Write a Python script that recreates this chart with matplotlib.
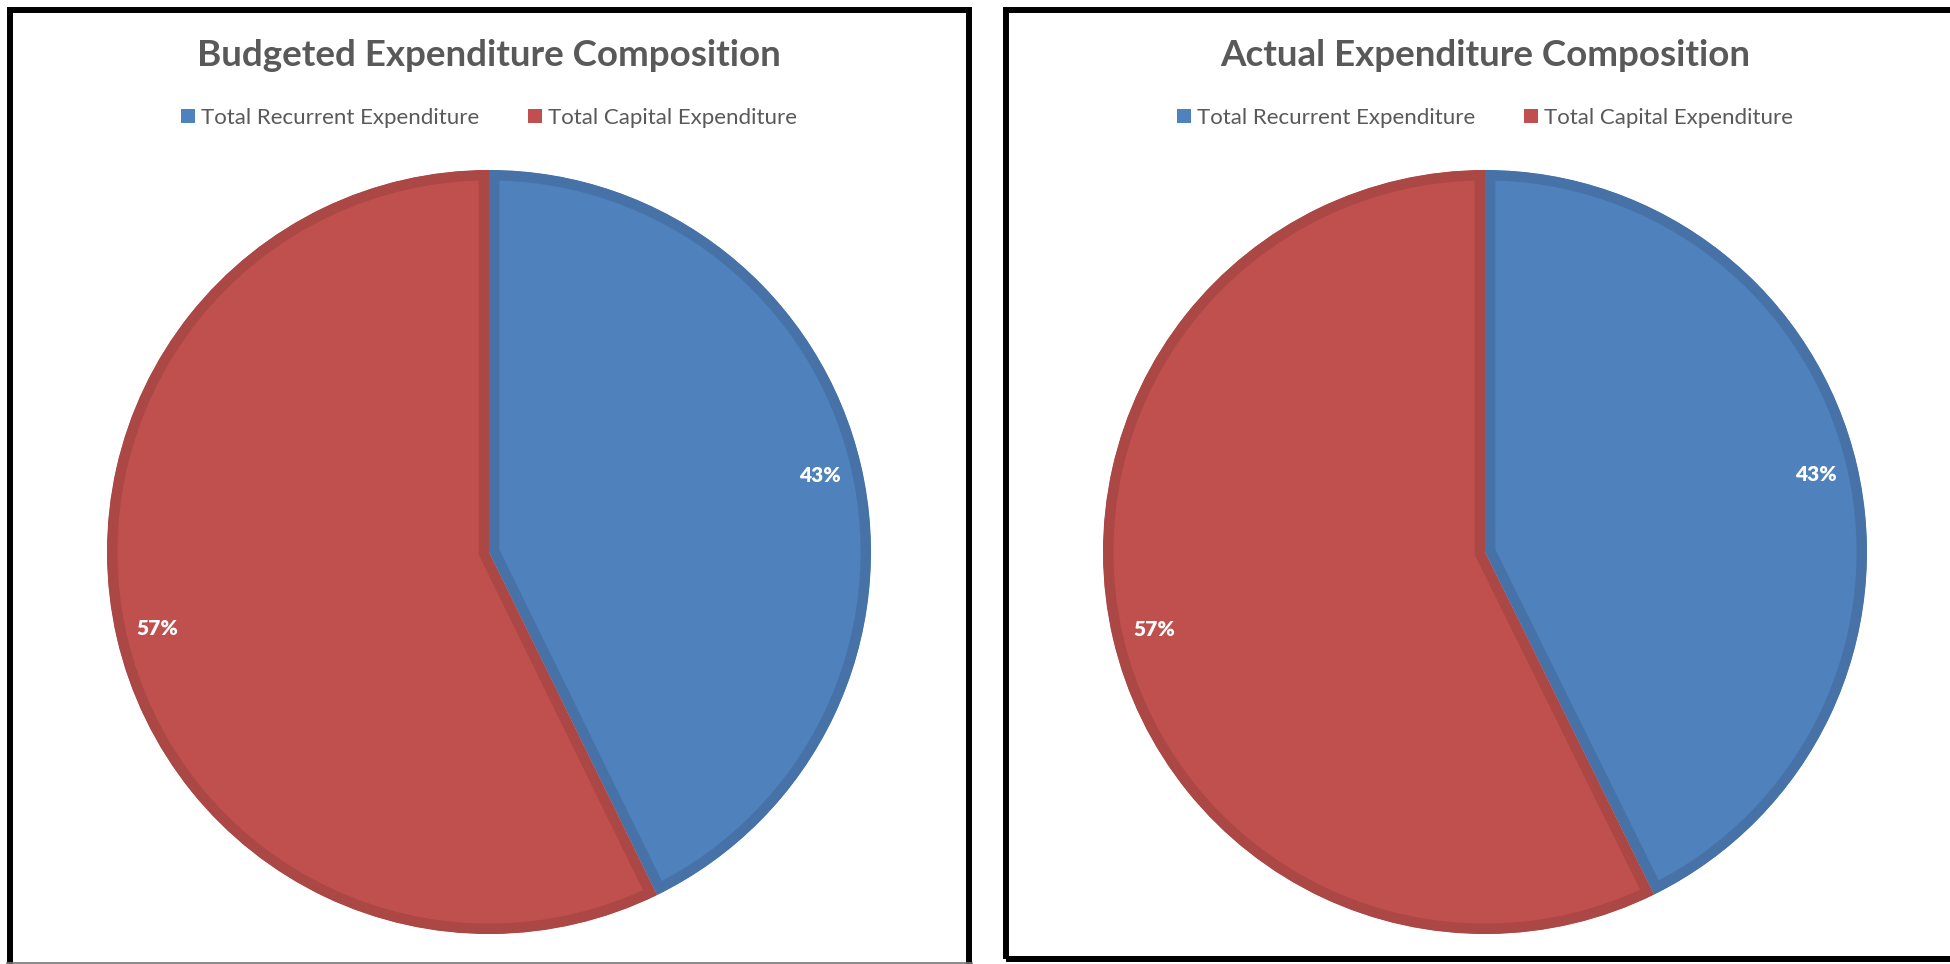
import matplotlib
matplotlib.use("Agg")
import matplotlib.pyplot as plt
from matplotlib.patches import Rectangle, Patch
from matplotlib.lines import Line2D

W, H = 1950, 964

titles = ["Budgeted Expenditure Composition", "Actual Expenditure Composition"]
categories = ["Total Recurrent Expenditure", "Total Capital Expenditure"]
budgeted = [42.75, 57.25]
actual = [42.7, 57.3]
colors = ["#4F81BD", "#C0504D"]
edge_colors = ["#4672A8", "#AB4744"]
text_grey = "#595959"

plt.rcParams['font.family'] = ['Lato', 'DejaVu Sans']

fig = plt.figure(figsize=(W / 100, H / 100), dpi=100)


def px_rect(x, y, w, h):
    # pixel box (from top-left) -> figure fraction
    return [x / W, 1 - (y + h) / H, w / W, h / H]


def draw_panel(cx, values, title):
    r = 382
    cy = 552
    ax = fig.add_axes(px_rect(cx - r, cy - r, 2 * r, 2 * r))
    wedges, texts, autotexts = ax.pie(
        values, colors=colors, startangle=90, counterclock=False,
        radius=1, autopct='%1.0f%%', pctdistance=0.89,
        wedgeprops=dict(linewidth=15),
        textprops=dict(color="white", fontsize=15, fontweight="heavy"))
    for w, ec in zip(wedges, edge_colors):
        w.set_edgecolor(ec)
        w.set_clip_on(True)
        w.set_clip_path(w)  # keep the border inside each slice
    ax.set_xlim(-1, 1)
    ax.set_ylim(-1, 1)
    ax.set_aspect("equal")
    ax.axis("off")

    fig.text(cx / W, 1 - 56 / H, title, ha="center", va="center",
             fontsize=26.5, fontweight="bold", color=text_grey)

    handles = [Patch(facecolor=c, edgecolor="none") for c in colors]
    fig.legend(handles, categories, loc="center",
               bbox_to_anchor=(cx / W, 1 - 118 / H), ncol=2, frameon=False,
               fontsize=16, handlelength=0.63, handleheight=0.63,
               handletextpad=0.28, columnspacing=2.2, borderpad=0,
               labelcolor=text_grey)


draw_panel(489, budgeted, titles[0])
draw_panel(1485, actual, titles[1])

# chart frames
fig.add_artist(Rectangle((10 / W, 1 - 975 / H), (969 - 10) / W, (975 - 10) / H,
                         transform=fig.transFigure, fill=False, lw=4.3,
                         edgecolor="black"))
fig.add_artist(Rectangle((1006 / W, 1 - 959 / H), (1965 - 1006) / W, (959 - 10) / H,
                         transform=fig.transFigure, fill=False, lw=4.3,
                         edgecolor="black"))
fig.add_artist(Line2D([7 / W, 972 / W], [1 - 963 / H, 1 - 963 / H],
                      transform=fig.transFigure, color="#777777", lw=1.2))

fig.savefig("out.png", dpi=100)
